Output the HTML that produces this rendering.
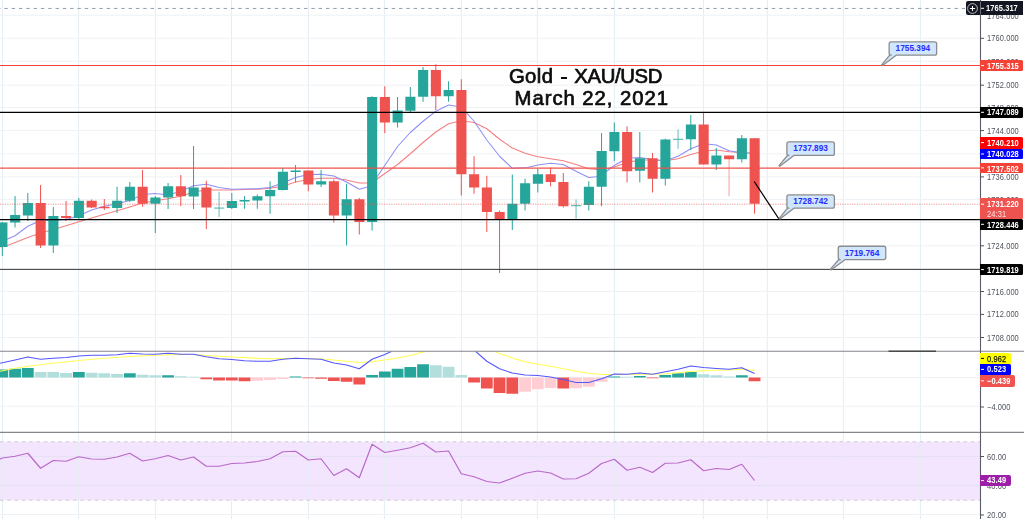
<!DOCTYPE html>
<html><head><meta charset="utf-8"><title>Gold XAU/USD</title>
<style>
html,body{margin:0;padding:0;background:#fff;}
body{width:1024px;height:519px;overflow:hidden;position:relative;font-family:"Liberation Sans",sans-serif;}
#L{position:absolute;left:0;top:0;width:1024px;height:519px;will-change:transform;}
.ax{position:absolute;left:987px;font-size:8.8px;line-height:12px;height:12px;color:#50535e;white-space:nowrap;letter-spacing:0.1px}
.lb{border-radius:0 1.5px 1.5px 0;position:absolute;box-sizing:border-box;font-size:8.8px;font-weight:bold;padding-left:7px;white-space:nowrap;overflow:hidden;letter-spacing:0.1px}
.sx{display:inline-block;transform:scaleX(0.85);transform-origin:0 50%;}
.t{position:absolute;white-space:nowrap;color:#0c0c0c;font-size:20.3px;line-height:22px;-webkit-text-stroke:0.7px #0c0c0c;}
</style></head><body>
<svg width="1024" height="519" viewBox="0 0 1024 519" style="position:absolute;left:0;top:0">
<rect width="1024" height="519" fill="#fff"/>
<rect x="0" y="441.75" width="980.5" height="58.5" fill="#f3e5fd"/>
<line x1="2.6" y1="0" x2="2.6" y2="519" stroke="#e4edf3" stroke-width="1"/>
<line x1="78.6" y1="0" x2="78.6" y2="519" stroke="#e4edf3" stroke-width="1"/>
<line x1="155.4" y1="0" x2="155.4" y2="519" stroke="#e4edf3" stroke-width="1"/>
<line x1="231.5" y1="0" x2="231.5" y2="519" stroke="#e4edf3" stroke-width="1"/>
<line x1="308.3" y1="0" x2="308.3" y2="519" stroke="#e4edf3" stroke-width="1"/>
<line x1="384.4" y1="0" x2="384.4" y2="519" stroke="#e4edf3" stroke-width="1"/>
<line x1="461.4" y1="0" x2="461.4" y2="519" stroke="#e4edf3" stroke-width="1"/>
<line x1="537.4" y1="0" x2="537.4" y2="519" stroke="#e4edf3" stroke-width="1"/>
<line x1="614.4" y1="0" x2="614.4" y2="519" stroke="#e4edf3" stroke-width="1"/>
<line x1="703.4" y1="0" x2="703.4" y2="519" stroke="#e4edf3" stroke-width="1"/>
<line x1="767.3" y1="0" x2="767.3" y2="519" stroke="#e4edf3" stroke-width="1"/>
<line x1="843.4" y1="0" x2="843.4" y2="519" stroke="#e4edf3" stroke-width="1"/>
<line x1="920.4" y1="0" x2="920.4" y2="519" stroke="#e4edf3" stroke-width="1"/>
<line x1="0" y1="15.16" x2="980.5" y2="15.16" stroke="#edf2f6" stroke-width="1"/>
<line x1="0" y1="38.26" x2="980.5" y2="38.26" stroke="#edf2f6" stroke-width="1"/>
<line x1="0" y1="61.24" x2="980.5" y2="61.24" stroke="#edf2f6" stroke-width="1"/>
<line x1="0" y1="85.20" x2="980.5" y2="85.20" stroke="#edf2f6" stroke-width="1"/>
<line x1="0" y1="107.45" x2="980.5" y2="107.45" stroke="#edf2f6" stroke-width="1"/>
<line x1="0" y1="130.60" x2="980.5" y2="130.60" stroke="#edf2f6" stroke-width="1"/>
<line x1="0" y1="153.80" x2="980.5" y2="153.80" stroke="#edf2f6" stroke-width="1"/>
<line x1="0" y1="176.90" x2="980.5" y2="176.90" stroke="#edf2f6" stroke-width="1"/>
<line x1="0" y1="199.40" x2="980.5" y2="199.40" stroke="#edf2f6" stroke-width="1"/>
<line x1="0" y1="222.30" x2="980.5" y2="222.30" stroke="#edf2f6" stroke-width="1"/>
<line x1="0" y1="245.80" x2="980.5" y2="245.80" stroke="#edf2f6" stroke-width="1"/>
<line x1="0" y1="268.80" x2="980.5" y2="268.80" stroke="#edf2f6" stroke-width="1"/>
<line x1="0" y1="291.55" x2="980.5" y2="291.55" stroke="#edf2f6" stroke-width="1"/>
<line x1="0" y1="314.40" x2="980.5" y2="314.40" stroke="#edf2f6" stroke-width="1"/>
<line x1="0" y1="337.50" x2="980.5" y2="337.50" stroke="#edf2f6" stroke-width="1"/>
<line x1="0" y1="377.5" x2="980.5" y2="377.5" stroke="#edf2f6" stroke-width="1"/>
<line x1="0" y1="406.25" x2="980.5" y2="406.25" stroke="#edf2f6" stroke-width="1"/>
<line x1="0" y1="456.25" x2="980.5" y2="456.25" stroke="#e4e0f3" stroke-width="1"/>
<line x1="0" y1="485.6" x2="980.5" y2="485.6" stroke="#e4e0f3" stroke-width="1"/>
<line x1="0" y1="514.5" x2="980.5" y2="514.5" stroke="#edf2f6" stroke-width="1"/>
<line x1="0" y1="441.75" x2="980.5" y2="441.75" stroke="#cfcad9" stroke-width="1" stroke-dasharray="3.5 3.8"/>
<line x1="0" y1="500.25" x2="980.5" y2="500.25" stroke="#cfcad9" stroke-width="1" stroke-dasharray="3.5 3.8"/>
<line x1="-2.95" y1="8.45" x2="965" y2="8.45" stroke="#939db0" stroke-width="1" stroke-dasharray="3.4 3.909"/>
<polyline points="0,247 7.5,245.5 15.05,242.5 27.8,237.5 40.55,233 53.3,229.5 66.05,225.75 78.8,221.75 91.55,218 104.3,214.25 117.05,210.75 129.8,207 142.55,203 155.3,200.75 168.05,198.75 180.8,196.25 193.55,192 206.3,190 219.05,190 231.8,190 244.55,189.5 257.3,189.25 270.05,188.25 282.8,186.25 295.55,182 308.3,179.5 321.05,178.25 333.8,178.25 346.55,180 359.3,183 367.5,183 375,180.5 397.55,164.5 410.3,153.75 423.05,142.5 435.8,132 448.55,123.75 461.3,120.75 474.05,122.5 486.8,128.75 499.55,139.25 512.3,148 525.05,153.25 537.8,156.75 550.55,158.75 563.3,160.75 576.05,164.5 588.8,168.75 601.55,170 614.3,167 627.05,162.5 639.8,160 652.55,160 665.3,160.75 678.05,158.75 690.8,154.5 703.55,151.25 716.3,150 729.05,151.75 741.8,152.5 750,153" fill="none" stroke="#f77f7f" stroke-width="1.05" stroke-linejoin="round"/>
<polyline points="0,241.25 7.5,239 15.05,235.75 27.8,226.25 40.55,220.5 53.3,220.5 66.05,219.5 78.8,215.75 91.55,210 104.3,206.25 117.05,203.75 129.8,200.5 142.55,194.5 155.3,193.5 168.05,195 180.8,191.25 193.55,185.75 206.3,184.25 219.05,187.5 231.8,189.25 244.55,189 257.3,188.75 270.05,187.5 282.8,183 295.55,177.5 308.3,174.5 321.05,174.25 333.8,176 346.55,182 359.3,189.25 367.5,187 372.05,183.75 377.5,176.25 397.55,146.5 410.3,132.5 423.05,121.25 435.8,111.25 448.55,105 461.3,107 474.05,121.25 486.8,140 499.55,156.25 512.3,168.25 527.5,167.5 537.8,165 550.55,163.25 563.3,164.5 576.05,171.25 588.8,177.5 596.25,176.75 605,172.5 614.3,165.5 627.05,158.25 639.8,157.5 652.55,159.5 665.3,160.75 678.05,156.25 690.8,148.75 703.55,143.75 716.3,145 729.05,150.75 741.8,153 750,153.25" fill="none" stroke="#8f8ff5" stroke-width="1.05" stroke-linejoin="round"/>
<line x1="2.3" y1="222" x2="2.3" y2="256" stroke="#26a69a" stroke-width="1"/>
<rect x="-2.65" y="222.5" width="10.1" height="24.5" fill="#26a69a"/>
<line x1="15.05" y1="196" x2="15.05" y2="227.5" stroke="#26a69a" stroke-width="1"/>
<rect x="10.10" y="215" width="10.1" height="7.5" fill="#26a69a"/>
<line x1="27.8" y1="193" x2="27.8" y2="221" stroke="#26a69a" stroke-width="1"/>
<rect x="22.85" y="203" width="10.1" height="12.5" fill="#26a69a"/>
<line x1="40.55" y1="185" x2="40.55" y2="248" stroke="#ef5350" stroke-width="1"/>
<rect x="35.60" y="203" width="10.1" height="42.5" fill="#ef5350"/>
<line x1="53.3" y1="207" x2="53.3" y2="253" stroke="#26a69a" stroke-width="1"/>
<rect x="48.35" y="216" width="10.1" height="29.5" fill="#26a69a"/>
<line x1="66.05" y1="201" x2="66.05" y2="221" stroke="#ef5350" stroke-width="1"/>
<rect x="61.10" y="216" width="10.1" height="2" fill="#ef5350"/>
<line x1="78.8" y1="198" x2="78.8" y2="220" stroke="#26a69a" stroke-width="1"/>
<rect x="73.85" y="200.75" width="10.1" height="17.25" fill="#26a69a"/>
<line x1="91.55" y1="199.5" x2="91.55" y2="208" stroke="#ef5350" stroke-width="1"/>
<rect x="86.60" y="200.75" width="10.1" height="6.75" fill="#ef5350"/>
<line x1="104.3" y1="199" x2="104.3" y2="210" stroke="#ef5350" stroke-width="1"/>
<rect x="99.35" y="206.75" width="10.1" height="1.5" fill="#ef5350"/>
<line x1="117.05" y1="186.75" x2="117.05" y2="213" stroke="#26a69a" stroke-width="1"/>
<rect x="112.10" y="200.75" width="10.1" height="7.25" fill="#26a69a"/>
<line x1="129.8" y1="182" x2="129.8" y2="202" stroke="#26a69a" stroke-width="1"/>
<rect x="124.85" y="186.75" width="10.1" height="14" fill="#26a69a"/>
<line x1="142.55" y1="170" x2="142.55" y2="206.75" stroke="#ef5350" stroke-width="1"/>
<rect x="137.60" y="186.75" width="10.1" height="17" fill="#ef5350"/>
<line x1="155.3" y1="196" x2="155.3" y2="233" stroke="#26a69a" stroke-width="1"/>
<rect x="150.35" y="197.5" width="10.1" height="6.25" fill="#26a69a"/>
<line x1="168.05" y1="183" x2="168.05" y2="209" stroke="#26a69a" stroke-width="1"/>
<rect x="163.10" y="186.25" width="10.1" height="11.25" fill="#26a69a"/>
<line x1="180.8" y1="175" x2="180.8" y2="206" stroke="#ef5350" stroke-width="1"/>
<rect x="175.85" y="186.25" width="10.1" height="10" fill="#ef5350"/>
<line x1="193.55" y1="146" x2="193.55" y2="209" stroke="#26a69a" stroke-width="1"/>
<rect x="188.60" y="187.5" width="10.1" height="9" fill="#26a69a"/>
<line x1="206.3" y1="180.75" x2="206.3" y2="229" stroke="#ef5350" stroke-width="1"/>
<rect x="201.35" y="187.5" width="10.1" height="20" fill="#ef5350"/>
<line x1="219.05" y1="191.75" x2="219.05" y2="217" stroke="#26a69a" stroke-width="1" opacity="0.7"/>
<rect x="214.10" y="207.5" width="10.1" height="1.2" fill="#26a69a" opacity="0.7"/>
<line x1="231.8" y1="193" x2="231.8" y2="209" stroke="#26a69a" stroke-width="1"/>
<rect x="226.85" y="201" width="10.1" height="7" fill="#26a69a"/>
<line x1="244.55" y1="196" x2="244.55" y2="208.75" stroke="#26a69a" stroke-width="1"/>
<rect x="239.60" y="200" width="10.1" height="1.5" fill="#26a69a"/>
<line x1="257.3" y1="194.5" x2="257.3" y2="208.75" stroke="#26a69a" stroke-width="1"/>
<rect x="252.35" y="196.25" width="10.1" height="4.25" fill="#26a69a"/>
<line x1="270.05" y1="181.25" x2="270.05" y2="213.75" stroke="#26a69a" stroke-width="1"/>
<rect x="265.10" y="190" width="10.1" height="6.25" fill="#26a69a"/>
<line x1="282.8" y1="168" x2="282.8" y2="190.5" stroke="#26a69a" stroke-width="1"/>
<rect x="277.85" y="171.75" width="10.1" height="18.25" fill="#26a69a"/>
<line x1="295.55" y1="165" x2="295.55" y2="182.5" stroke="#26a69a" stroke-width="1"/>
<rect x="290.60" y="170.5" width="10.1" height="1.5" fill="#26a69a"/>
<line x1="308.3" y1="170.5" x2="308.3" y2="191.25" stroke="#ef5350" stroke-width="1"/>
<rect x="303.35" y="170.5" width="10.1" height="14" fill="#ef5350"/>
<line x1="321.05" y1="170" x2="321.05" y2="187" stroke="#26a69a" stroke-width="1"/>
<rect x="316.10" y="181.25" width="10.1" height="3.25" fill="#26a69a"/>
<line x1="333.8" y1="179.5" x2="333.8" y2="222.5" stroke="#ef5350" stroke-width="1"/>
<rect x="328.85" y="181.25" width="10.1" height="34.25" fill="#ef5350"/>
<line x1="346.55" y1="183.75" x2="346.55" y2="245.5" stroke="#26a69a" stroke-width="1"/>
<rect x="341.60" y="199.25" width="10.1" height="16.25" fill="#26a69a"/>
<line x1="359.3" y1="198" x2="359.3" y2="234.5" stroke="#ef5350" stroke-width="1"/>
<rect x="354.35" y="199.25" width="10.1" height="22.75" fill="#ef5350"/>
<line x1="372.05" y1="96.25" x2="372.05" y2="230.5" stroke="#26a69a" stroke-width="1"/>
<rect x="367.10" y="97" width="10.1" height="125" fill="#26a69a"/>
<line x1="384.8" y1="86.25" x2="384.8" y2="133.25" stroke="#ef5350" stroke-width="1"/>
<rect x="379.85" y="97" width="10.1" height="25.5" fill="#ef5350"/>
<line x1="397.55" y1="97" x2="397.55" y2="127.5" stroke="#26a69a" stroke-width="1"/>
<rect x="392.60" y="110.5" width="10.1" height="12" fill="#26a69a"/>
<line x1="410.3" y1="87" x2="410.3" y2="113" stroke="#26a69a" stroke-width="1"/>
<rect x="405.35" y="96.75" width="10.1" height="14" fill="#26a69a"/>
<line x1="423.05" y1="67" x2="423.05" y2="101.75" stroke="#26a69a" stroke-width="1"/>
<rect x="418.10" y="70" width="10.1" height="26.75" fill="#26a69a"/>
<line x1="435.8" y1="64.25" x2="435.8" y2="110" stroke="#ef5350" stroke-width="1"/>
<rect x="430.85" y="70" width="10.1" height="26.25" fill="#ef5350"/>
<line x1="448.55" y1="81.25" x2="448.55" y2="101.75" stroke="#26a69a" stroke-width="1"/>
<rect x="443.60" y="90" width="10.1" height="6.25" fill="#26a69a"/>
<line x1="461.3" y1="79.25" x2="461.3" y2="195.5" stroke="#ef5350" stroke-width="1"/>
<rect x="456.35" y="90" width="10.1" height="84.25" fill="#ef5350"/>
<line x1="474.05" y1="156.25" x2="474.05" y2="193.75" stroke="#ef5350" stroke-width="1"/>
<rect x="469.10" y="174.25" width="10.1" height="13.25" fill="#ef5350"/>
<line x1="486.8" y1="175.75" x2="486.8" y2="232" stroke="#ef5350" stroke-width="1"/>
<rect x="481.85" y="187.5" width="10.1" height="24.5" fill="#ef5350"/>
<line x1="499.55" y1="210.5" x2="499.55" y2="273" stroke="#ef5350" stroke-width="1"/>
<rect x="494.60" y="212" width="10.1" height="7.5" fill="#ef5350"/>
<line x1="512.3" y1="174.5" x2="512.3" y2="230" stroke="#26a69a" stroke-width="1"/>
<rect x="507.35" y="203.75" width="10.1" height="15.75" fill="#26a69a"/>
<line x1="525.05" y1="178.75" x2="525.05" y2="210.5" stroke="#26a69a" stroke-width="1"/>
<rect x="520.10" y="183.25" width="10.1" height="20.5" fill="#26a69a"/>
<line x1="537.8" y1="168.75" x2="537.8" y2="192.5" stroke="#26a69a" stroke-width="1"/>
<rect x="532.85" y="174.25" width="10.1" height="9.5" fill="#26a69a"/>
<line x1="550.55" y1="167.5" x2="550.55" y2="186.25" stroke="#ef5350" stroke-width="1"/>
<rect x="545.60" y="174.25" width="10.1" height="7.75" fill="#ef5350"/>
<line x1="563.3" y1="173" x2="563.3" y2="207.5" stroke="#ef5350" stroke-width="1"/>
<rect x="558.35" y="182" width="10.1" height="24.25" fill="#ef5350"/>
<line x1="576.05" y1="199.5" x2="576.05" y2="218.75" stroke="#26a69a" stroke-width="1" opacity="0.7"/>
<rect x="571.10" y="205" width="10.1" height="1.25" fill="#26a69a" opacity="0.7"/>
<line x1="588.8" y1="181.25" x2="588.8" y2="210.5" stroke="#26a69a" stroke-width="1"/>
<rect x="583.85" y="186.75" width="10.1" height="18.25" fill="#26a69a"/>
<line x1="601.55" y1="133" x2="601.55" y2="206.25" stroke="#26a69a" stroke-width="1"/>
<rect x="596.60" y="151" width="10.1" height="35.75" fill="#26a69a"/>
<line x1="614.3" y1="122.5" x2="614.3" y2="161.25" stroke="#26a69a" stroke-width="1"/>
<rect x="609.35" y="132" width="10.1" height="19.25" fill="#26a69a"/>
<line x1="627.05" y1="126.25" x2="627.05" y2="182.5" stroke="#ef5350" stroke-width="1"/>
<rect x="622.10" y="132" width="10.1" height="39.25" fill="#ef5350"/>
<line x1="639.8" y1="132" x2="639.8" y2="182.5" stroke="#26a69a" stroke-width="1"/>
<rect x="634.85" y="158.25" width="10.1" height="12.5" fill="#26a69a"/>
<line x1="652.55" y1="153" x2="652.55" y2="192.5" stroke="#ef5350" stroke-width="1"/>
<rect x="647.60" y="158.25" width="10.1" height="20.5" fill="#ef5350"/>
<line x1="665.3" y1="138.75" x2="665.3" y2="185.5" stroke="#26a69a" stroke-width="1"/>
<rect x="660.35" y="139.5" width="10.1" height="39.25" fill="#26a69a"/>
<line x1="678.05" y1="129.25" x2="678.05" y2="148.75" stroke="#26a69a" stroke-width="1" opacity="0.7"/>
<rect x="673.10" y="138.75" width="10.1" height="1.25" fill="#26a69a" opacity="0.7"/>
<line x1="690.8" y1="115" x2="690.8" y2="150" stroke="#26a69a" stroke-width="1"/>
<rect x="685.85" y="124.5" width="10.1" height="14.75" fill="#26a69a"/>
<line x1="703.55" y1="112.5" x2="703.55" y2="164.5" stroke="#ef5350" stroke-width="1"/>
<rect x="698.60" y="124.5" width="10.1" height="40" fill="#ef5350"/>
<line x1="716.3" y1="148" x2="716.3" y2="170" stroke="#26a69a" stroke-width="1"/>
<rect x="711.35" y="155.5" width="10.1" height="9" fill="#26a69a"/>
<line x1="729.05" y1="155.5" x2="729.05" y2="196.25" stroke="#ef5350" stroke-width="1" opacity="0.55"/>
<rect x="724.10" y="155.5" width="10.1" height="3.75" fill="#ef5350"/>
<line x1="741.8" y1="135" x2="741.8" y2="162.5" stroke="#26a69a" stroke-width="1"/>
<rect x="736.85" y="138.25" width="10.1" height="21" fill="#26a69a"/>
<line x1="754.55" y1="138.25" x2="754.55" y2="213.75" stroke="#ef5350" stroke-width="1"/>
<rect x="749.60" y="138.25" width="10.1" height="65.5" fill="#ef5350"/>
<line x1="0" y1="65.5" x2="980.5" y2="65.5" stroke="#f44336" stroke-width="1.15"/>
<line x1="0" y1="168.1" x2="980.5" y2="168.1" stroke="#f2524b" stroke-width="1.35"/>
<line x1="0" y1="112.3" x2="980.5" y2="112.3" stroke="#000" stroke-width="1.35"/>
<line x1="0" y1="219.6" x2="980.5" y2="219.6" stroke="#000" stroke-width="1.35"/>
<line x1="0" y1="269.4" x2="980.5" y2="269.4" stroke="#3a3a3a" stroke-width="1"/>
<line x1="0" y1="204.2" x2="980.5" y2="204.2" stroke="#ef5350" stroke-width="1" stroke-dasharray="1.2 1.2" opacity="0.6"/>
<line x1="754.2" y1="181.5" x2="779.3" y2="219.5" stroke="#000" stroke-width="1.3"/>
<clipPath id="mc"><rect x="0" y="351.6" width="980" height="80"/></clipPath>
<g clip-path="url(#mc)">
<rect x="-3.60" y="369.5" width="11.8" height="8" fill="#26a69a"/>
<rect x="9.15" y="368.75" width="11.8" height="8.75" fill="#26a69a"/>
<rect x="21.90" y="368" width="11.8" height="9.5" fill="#26a69a"/>
<rect x="34.65" y="372" width="11.8" height="5.5" fill="#b2dfdb"/>
<rect x="47.40" y="372" width="11.8" height="5.5" fill="#b2dfdb"/>
<rect x="60.15" y="373" width="11.8" height="4.5" fill="#b2dfdb"/>
<rect x="72.90" y="372" width="11.8" height="5.5" fill="#26a69a"/>
<rect x="85.65" y="372.75" width="11.8" height="4.75" fill="#b2dfdb"/>
<rect x="98.40" y="373.25" width="11.8" height="4.25" fill="#b2dfdb"/>
<rect x="111.15" y="374" width="11.8" height="3.5" fill="#b2dfdb"/>
<rect x="123.90" y="373.25" width="11.8" height="4.25" fill="#26a69a"/>
<rect x="136.65" y="374.75" width="11.8" height="2.75" fill="#b2dfdb"/>
<rect x="149.40" y="375.25" width="11.8" height="2.25" fill="#b2dfdb"/>
<rect x="162.15" y="375.25" width="11.8" height="2.25" fill="#26a69a"/>
<rect x="174.90" y="376.25" width="11.8" height="1.25" fill="#b2dfdb"/>
<rect x="187.65" y="376.75" width="11.8" height="0.75" fill="#b2dfdb"/>
<rect x="200.40" y="377.5" width="11.8" height="1.75" fill="#ef5350"/>
<rect x="213.15" y="377.5" width="11.8" height="3" fill="#ef5350"/>
<rect x="225.90" y="377.5" width="11.8" height="3" fill="#ef5350"/>
<rect x="238.65" y="377.5" width="11.8" height="3.75" fill="#ef5350"/>
<rect x="251.40" y="377.5" width="11.8" height="3.25" fill="#ffcdd2"/>
<rect x="264.15" y="377.5" width="11.8" height="2.5" fill="#ffcdd2"/>
<rect x="276.90" y="377.5" width="11.8" height="1.5" fill="#ffcdd2"/>
<rect x="289.65" y="376.5" width="11.8" height="1" fill="#26a69a"/>
<rect x="302.40" y="377.5" width="11.8" height="0.75" fill="#ef5350"/>
<rect x="315.15" y="377.5" width="11.8" height="1.25" fill="#ef5350"/>
<rect x="327.90" y="377.5" width="11.8" height="3.5" fill="#ef5350"/>
<rect x="340.65" y="377.5" width="11.8" height="4.25" fill="#ef5350"/>
<rect x="353.40" y="377.5" width="11.8" height="7" fill="#ef5350"/>
<rect x="366.15" y="375" width="11.8" height="2.5" fill="#26a69a"/>
<rect x="378.90" y="371.5" width="11.8" height="6" fill="#26a69a"/>
<rect x="391.65" y="368.75" width="11.8" height="8.75" fill="#26a69a"/>
<rect x="404.40" y="367" width="11.8" height="10.5" fill="#26a69a"/>
<rect x="417.15" y="364.25" width="11.8" height="13.25" fill="#26a69a"/>
<rect x="429.90" y="365.25" width="11.8" height="12.25" fill="#b2dfdb"/>
<rect x="442.65" y="366.75" width="11.8" height="10.75" fill="#b2dfdb"/>
<rect x="455.40" y="375" width="11.8" height="2.5" fill="#b2dfdb"/>
<rect x="468.15" y="377.5" width="11.8" height="5" fill="#ef5350"/>
<rect x="480.90" y="377.5" width="11.8" height="11" fill="#ef5350"/>
<rect x="493.65" y="377.5" width="11.8" height="15.5" fill="#ef5350"/>
<rect x="506.40" y="377.5" width="11.8" height="16.25" fill="#ef5350"/>
<rect x="519.15" y="377.5" width="11.8" height="14.25" fill="#ffcdd2"/>
<rect x="531.90" y="377.5" width="11.8" height="11.75" fill="#ffcdd2"/>
<rect x="544.65" y="377.5" width="11.8" height="10.5" fill="#ffcdd2"/>
<rect x="557.40" y="377.5" width="11.8" height="11" fill="#ef5350"/>
<rect x="570.15" y="377.5" width="11.8" height="10.75" fill="#ffcdd2"/>
<rect x="582.90" y="377.5" width="11.8" height="9.25" fill="#ffcdd2"/>
<rect x="595.65" y="377.5" width="11.8" height="4.25" fill="#ffcdd2"/>
<rect x="608.40" y="376.5" width="11.8" height="1" fill="#26a69a"/>
<rect x="621.15" y="376.75" width="11.8" height="0.75" fill="#b2dfdb"/>
<rect x="633.90" y="376" width="11.8" height="1.5" fill="#26a69a"/>
<rect x="646.65" y="377.5" width="11.8" height="0.75" fill="#ef5350"/>
<rect x="659.40" y="375" width="11.8" height="2.5" fill="#26a69a"/>
<rect x="672.15" y="373.25" width="11.8" height="4.25" fill="#26a69a"/>
<rect x="684.90" y="372" width="11.8" height="5.5" fill="#26a69a"/>
<rect x="697.65" y="374.25" width="11.8" height="3.25" fill="#b2dfdb"/>
<rect x="710.40" y="375.25" width="11.8" height="2.25" fill="#b2dfdb"/>
<rect x="723.15" y="376.5" width="11.8" height="1" fill="#b2dfdb"/>
<rect x="735.90" y="375.25" width="11.8" height="2.25" fill="#26a69a"/>
<rect x="748.65" y="377.5" width="11.8" height="3.75" fill="#ef5350"/>
<polyline points="0,371.25 15.05,368.25 27.8,366.25 53.3,363.25 78.8,360.5 104.3,358.25 129.8,356.5 155.3,355.25 180.8,354.5 193.55,354.5 206.3,355.5 231.8,357 257.3,358.25 270.05,358.75 295.55,358.25 308.3,358.75 321.05,359 333.8,360 346.55,361.25 359.3,362.5 372.05,361.75 384.8,360 397.55,358 410.3,355.5 423.05,352 435.8,347 448.55,343 461.3,341 474.05,343 486.8,348 499.55,353.5 512.3,358 525.05,361.75 537.8,364.25 550.55,366.25 563.3,368.75 576.05,371.25 588.8,373.25 601.55,374.5 614.3,374.5 627.05,374.5 639.8,374.25 652.55,374.25 665.3,373.75 678.05,372.75 690.8,371.5 703.55,370.75 716.3,370.25 729.05,370 741.8,369.25 754.55,370.5" fill="none" stroke="#ffff55" stroke-width="1.2" stroke-linejoin="round"/>
<polyline points="0,363.25 15.05,360 27.8,357 40.55,359.25 53.3,358.25 66.05,357.5 78.8,356 91.55,355.25 104.3,355.25 117.05,354.75 129.8,353.25 142.55,354 155.3,354.25 168.05,353.25 180.8,354.25 193.55,354.25 206.3,356.75 219.05,358.75 231.8,359.5 244.55,360.75 257.3,361.25 270.05,361.25 282.8,359.25 295.55,358.25 308.3,358.75 321.05,359.25 333.8,363 346.55,365 359.3,368.75 372.05,359.25 384.8,354.5 391.25,351.6 397.55,346 410.3,340 423.05,334 435.8,330 448.55,328 461.3,335 474.05,350 486.8,361.25 499.55,368.75 512.3,373 525.05,375 537.8,375.5 550.55,377 563.3,379.5 576.05,382.5 588.8,382.5 601.55,378.75 614.3,374 627.05,374.25 639.8,373 652.55,374.25 665.3,371.75 678.05,369.25 690.8,366 703.55,367.5 716.3,368.5 729.05,369.25 741.8,367.75 754.55,373.5" fill="none" stroke="#5555ff" stroke-width="1.1" stroke-linejoin="round"/>
</g>
<polyline points="0,459.25 2.3,458 15.05,456.25 27.8,453.25 40.55,468.25 53.3,460.5 66.05,461.25 78.8,456.75 91.55,459 104.3,459.25 117.05,457 129.8,453.25 142.55,461 155.3,458.75 168.05,455.5 180.8,460 193.55,457 206.3,466.25 219.05,466.25 231.8,463.5 244.55,463 257.3,461.5 270.05,458.75 282.8,451.75 295.55,451.25 308.3,460 321.05,458.75 333.8,475.5 346.55,468.75 359.3,477.75 372.05,444.25 384.8,452.5 397.55,450.25 410.3,447.75 423.05,443.25 435.8,452 448.55,451 461.3,473.75 474.05,476.75 486.8,481.5 499.55,483 512.3,478.25 525.05,473.25 537.8,471 550.55,473 563.3,479 576.05,478.75 588.8,473.25 601.55,463.5 614.3,459.25 627.05,470.25 639.8,467.25 652.55,472.5 665.3,463.25 678.05,463 690.8,459.75 703.55,470.75 716.3,468.5 729.05,469.5 741.8,464.25 754.55,480.5" fill="none" stroke="#b968c9" stroke-width="1.2" stroke-linejoin="round"/>
<line x1="0" y1="351.3" x2="1024" y2="351.3" stroke="#85858c" stroke-width="1.1"/>
<line x1="0" y1="432.4" x2="1024" y2="432.4" stroke="#85858c" stroke-width="1.1"/>
<line x1="888.5" y1="351.2" x2="936" y2="351.2" stroke="#4a4a4a" stroke-width="1.5"/>
<line x1="980.5" y1="0" x2="980.5" y2="519" stroke="#5a5d68" stroke-width="1.1"/>
<line x1="980.5" y1="38.3" x2="984.0" y2="38.3" stroke="#50535e" stroke-width="1"/>
<line x1="980.5" y1="85.2" x2="984.0" y2="85.2" stroke="#50535e" stroke-width="1"/>
<line x1="980.5" y1="130.6" x2="984.0" y2="130.6" stroke="#50535e" stroke-width="1"/>
<line x1="980.5" y1="176.9" x2="984.0" y2="176.9" stroke="#50535e" stroke-width="1"/>
<line x1="980.5" y1="245.8" x2="984.0" y2="245.8" stroke="#50535e" stroke-width="1"/>
<line x1="980.5" y1="291.5" x2="984.0" y2="291.5" stroke="#50535e" stroke-width="1"/>
<line x1="980.5" y1="314.4" x2="984.0" y2="314.4" stroke="#50535e" stroke-width="1"/>
<line x1="980.5" y1="337.5" x2="984.0" y2="337.5" stroke="#50535e" stroke-width="1"/>
<line x1="980.5" y1="407" x2="984.0" y2="407" stroke="#50535e" stroke-width="1"/>
<line x1="980.5" y1="456.5" x2="984.0" y2="456.5" stroke="#50535e" stroke-width="1"/>
<line x1="980.5" y1="515" x2="984.0" y2="515" stroke="#50535e" stroke-width="1"/>
<path d="M891.15,41.85 H934.65 Q936.65,41.85 936.65,43.85 V53.150000000000006 Q936.65,55.150000000000006 934.65,55.150000000000006 H896.15 L882.2,65.7 L881.4000000000001,65.10000000000001 L889.75,55.150000000000006 H891.15 Q889.15,55.150000000000006 889.15,53.150000000000006 V43.85 Q889.15,41.85 891.15,41.85 Z" fill="#cfe6fc" stroke="#8c8c8c" stroke-width="1.3" stroke-linejoin="round"/><text x="912.9" y="51.25" text-anchor="middle" font-family="Liberation Sans, sans-serif" font-size="8.4" font-weight="bold" fill="#2a2aff" textLength="34.6" lengthAdjust="spacingAndGlyphs">1755.394</text>
<path d="M788.9,141.9 H832.4 Q834.4,141.9 834.4,143.9 V153.4 Q834.4,155.4 832.4,155.4 H793.9 L779.8,166.3 L779.0,165.70000000000002 L787.5,155.4 H788.9 Q786.9,155.4 786.9,153.4 V143.9 Q786.9,141.9 788.9,141.9 Z" fill="#cfe6fc" stroke="#8c8c8c" stroke-width="1.3" stroke-linejoin="round"/><text x="810.65" y="151.4" text-anchor="middle" font-family="Liberation Sans, sans-serif" font-size="8.4" font-weight="bold" fill="#2a2aff" textLength="34.6" lengthAdjust="spacingAndGlyphs">1737.893</text>
<path d="M788.9,194.9 H832.4 Q834.4,194.9 834.4,196.9 V206.20000000000002 Q834.4,208.20000000000002 832.4,208.20000000000002 H793.9 L780.0,219 L779.2,218.4 L787.5,208.20000000000002 H788.9 Q786.9,208.20000000000002 786.9,206.20000000000002 V196.9 Q786.9,194.9 788.9,194.9 Z" fill="#cfe6fc" stroke="#8c8c8c" stroke-width="1.3" stroke-linejoin="round"/><text x="810.65" y="204.3" text-anchor="middle" font-family="Liberation Sans, sans-serif" font-size="8.4" font-weight="bold" fill="#2a2aff" textLength="34.6" lengthAdjust="spacingAndGlyphs">1728.742</text>
<path d="M840.25,246.25 H883.75 Q885.75,246.25 885.75,248.25 V257.55 Q885.75,259.55 883.75,259.55 H845.25 L831.0,270 L830.2,269.4 L838.85,259.55 H840.25 Q838.25,259.55 838.25,257.55 V248.25 Q838.25,246.25 840.25,246.25 Z" fill="#cfe6fc" stroke="#8c8c8c" stroke-width="1.3" stroke-linejoin="round"/><text x="862.0" y="255.65" text-anchor="middle" font-family="Liberation Sans, sans-serif" font-size="8.4" font-weight="bold" fill="#2a2aff" textLength="34.6" lengthAdjust="spacingAndGlyphs">1719.764</text>
</svg>
<div id="L2" style="position:absolute;left:0;top:0;width:1024px;height:519px;will-change:transform"><div class="t" id="t1" style="left:508.9px;top:64.5px;letter-spacing:0.45px">Gold</div>
<div style="position:absolute;left:560.6px;top:76.7px;width:6.5px;height:2.1px;background:#0c0c0c"></div>
<div class="t" id="t1b" style="left:574.3px;top:64.5px;letter-spacing:-0.35px">XAU/USD</div>
<div class="t" id="t2" style="left:514.6px;top:86.5px;letter-spacing:0.96px">March 22, 2021</div></div>
<div id="L"><div class="ax" style="top:32.2px"><span class="sx">1760.000</span></div><div class="ax" style="top:78.6px"><span class="sx">1752.000</span></div><div class="ax" style="top:124.6px"><span class="sx">1744.000</span></div><div class="ax" style="top:170.6px"><span class="sx">1736.000</span></div><div class="ax" style="top:239.6px"><span class="sx">1724.000</span></div><div class="ax" style="top:285.5px"><span class="sx">1716.000</span></div><div class="ax" style="top:308.4px"><span class="sx">1712.000</span></div><div class="ax" style="top:331.5px"><span class="sx">1708.000</span></div><div class="ax" style="top:9.6px"><span class="sx">1764.000</span></div><div class="ax" style="top:55.6px"><span class="sx">1756.000</span></div><div class="ax" style="top:101.6px"><span class="sx">1748.000</span></div><div class="ax" style="top:193.6px"><span class="sx">1732.000</span></div><div class="ax" style="top:401px"><span class="sx">&#8722;4.000</span></div><div class="ax" style="top:450.7px"><span class="sx">60.00</span></div><div class="ax" style="top:480.2px"><span class="sx">40.00</span></div><div class="ax" style="top:509px"><span class="sx">20.00</span></div><div class="lb" style="top:1.4px;height:13.4px;line-height:14.6px;background:#131722;color:#fff;width:57.5px;left:965.5px;padding-left:20.5px;border-radius:2px 0 0 2px"><span class="sx">1765.317</span></div><svg style="position:absolute;left:966px;top:1.9px" width="13" height="13" viewBox="0 0 13 13"><circle cx="6.5" cy="6.5" r="4.9" fill="none" stroke="#d8d8de" stroke-width="0.85"/><path d="M3.9 6.5H9.1M6.5 3.9V9.1" stroke="#fff" stroke-width="1.05"/></svg><div class="lb" style="top:60px;height:11.3px;line-height:12.5px;background:#f44336;color:#fff;width:43px;left:980px;"><span class="sx">1755.315</span></div><div class="lb" style="top:107px;height:10.6px;line-height:11.799999999999999px;background:#000;color:#fff;width:43px;left:980px;"><span class="sx">1747.089</span></div><div class="lb" style="top:137px;height:11.5px;line-height:12.7px;background:#ff0000;color:#fff;width:43px;left:980px;"><span class="sx">1740.210</span></div><div class="lb" style="top:148.6px;height:10.7px;line-height:11.899999999999999px;background:#0000ff;color:#fff;width:43px;left:980px;"><span class="sx">1740.028</span></div><div class="lb" style="top:162.5px;height:10.8px;line-height:12.0px;background:#f44336;color:#fff;width:43px;left:980px;"><span class="sx">1737.502</span></div><div class="lb" style="top:198.3px;height:20.5px;line-height:10px;background:#ef5350;color:#fff;width:43px;left:980px"><span class="sx" style="display:block;padding-top:0.6px">1731.220</span><span class="sx" style="display:block;font-weight:normal;opacity:.85">24:31</span></div><div class="lb" style="top:218.8px;height:11.2px;line-height:12.399999999999999px;background:#000;color:#fff;width:43px;left:980px;"><span class="sx">1728.446</span></div><div class="lb" style="top:264.2px;height:10.8px;line-height:12.0px;background:#000;color:#fff;width:43px;left:980px;"><span class="sx">1719.819</span></div><div class="lb" style="top:352.9px;height:10.9px;line-height:12.1px;background:#ffff00;color:#1a1a00;width:30.7px;left:980px;font-weight:normal;-webkit-text-stroke:0.25px #1a1a00;"><span class="sx">0.962</span></div><div class="lb" style="top:364.2px;height:10.4px;line-height:11.6px;background:#0000ff;color:#fff;width:30.5px;left:980px;"><span class="sx">0.523</span></div><div class="lb" style="top:375.3px;height:11.3px;line-height:12.5px;background:#ef5350;color:#fff;width:34.8px;left:980px;border-radius:0 2px 2px 0;"><span class="sx">&#8722;0.439</span></div><div class="lb" style="top:475.4px;height:10.5px;line-height:11.7px;background:#9c1fa8;color:#fff;width:30.5px;left:980px;border-radius:0 2px 2px 0;"><span class="sx">43.49</span></div></div>
<svg style="position:absolute;left:0;top:0;pointer-events:none" width="1024" height="519"><line x1="981" y1="8.3" x2="984" y2="8.3" stroke="#fff" stroke-width="1"/><line x1="981" y1="65.6" x2="984" y2="65.6" stroke="#fff" stroke-width="1"/><line x1="981" y1="112.3" x2="984" y2="112.3" stroke="#fff" stroke-width="1"/><line x1="981" y1="142.6" x2="984" y2="142.6" stroke="#fff" stroke-width="1"/><line x1="981" y1="154" x2="984" y2="154" stroke="#fff" stroke-width="1"/><line x1="981" y1="167.9" x2="984" y2="167.9" stroke="#fff" stroke-width="1"/><line x1="981" y1="204.2" x2="984" y2="204.2" stroke="#fff" stroke-width="1"/><line x1="981" y1="224.3" x2="984" y2="224.3" stroke="#fff" stroke-width="1"/><line x1="981" y1="269.6" x2="984" y2="269.6" stroke="#fff" stroke-width="1"/><line x1="981" y1="358.4" x2="984" y2="358.4" stroke="#000" stroke-width="1"/><line x1="981" y1="369.4" x2="984" y2="369.4" stroke="#fff" stroke-width="1"/><line x1="981" y1="380.8" x2="984" y2="380.8" stroke="#fff" stroke-width="1"/><line x1="981" y1="480.6" x2="984" y2="480.6" stroke="#fff" stroke-width="1"/><line x1="980.5" y1="1.6" x2="980.5" y2="14.6" stroke="#6c6f7a" stroke-width="1"/></svg>
</body></html>
